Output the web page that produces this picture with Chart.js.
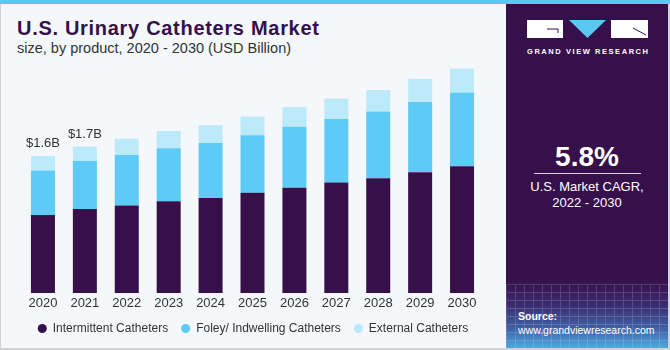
<!DOCTYPE html>
<html>
<head>
<meta charset="utf-8">
<script src="https://cdn.jsdelivr.net/npm/chart.js@4"></script>
<style>
  html, body { margin: 0; padding: 0; }
  body { width: 670px; height: 350px; position: relative; overflow: hidden; background: #f4f8fb; font-family: "Liberation Sans", Arial, sans-serif; }
  #frame { position: absolute; left: 0; top: 0; border-left: 1px solid #cfd3d6; border-right: 2px solid #cfd3d6; border-bottom: 2px solid #cfd3d6; box-sizing: border-box; width: 670px; height: 350px; }
  #topbar { position: absolute; left: 0; top: 0; width: 670px; height: 4px; background: #5bc8f2; }
  #title { position: absolute; left: 17px; top: 18px; font-size: 20px; line-height: 20px; font-weight: bold; color: #35104a; letter-spacing: 0.7px; white-space: nowrap; }
  #subtitle { position: absolute; left: 17px; top: 41px; font-size: 14.5px; line-height: 15px; color: #333; white-space: nowrap; }
  #chartbox { position: absolute; left: 0; top: 0; width: 506px; height: 350px; }
  #side { position: absolute; left: 506px; top: 4px; width: 162px; height: 344px; overflow: hidden;
          background: linear-gradient(to bottom, #36104a 0px, #36104a 275px, #3c2a6e 300px, #3f63a6 325px, #4fa8e0 344px); color: #fff; text-align: center; }
  #grid { position: absolute; left: 0; top: 280px; width: 162px; height: 64px; opacity: 0.15;
          background-image: repeating-linear-gradient(to right, #fff 0 1px, transparent 1px 9px), repeating-linear-gradient(to bottom, #fff 0 1px, transparent 1px 8px); }
  #cagr { position: absolute; left: 0; width: 162px; top: 139px; font-size: 28px; line-height: 28px; font-weight: bold; }
  #rule { position: absolute; left: 28px; width: 107px; top: 169px; height: 1px; background: #d8d0e0; }
  #cagrtxt { position: absolute; left: 0; width: 162px; top: 175px; font-size: 13px; line-height: 16px; }
  #source { position: absolute; left: 12px; top: 305px; font-size: 10.5px; line-height: 14px; text-align: left; }
</style>
</head>
<body>
<div id="frame"></div>
<div id="topbar"></div>
<div id="title">U.S. Urinary Catheters Market</div>
<div id="subtitle">size, by product, 2020 - 2030 (USD Billion)</div>
<div id="chartbox"><canvas id="chart" width="506" height="350"></canvas></div>
<div id="side">
  <svg width="162" height="60" style="position:absolute;left:0;top:0">
    <rect x="21" y="16" width="36" height="18" fill="#fff"/>
    <path d="M41 25 H52 V29" stroke="#36104a" stroke-width="1" fill="none"/>
    <polygon points="63,16 100,16 81.5,34" fill="#5bc8f2"/>
    <rect x="105" y="16" width="37" height="18" fill="#fff"/>
    <path d="M127 24 L140 31" stroke="#36104a" stroke-width="1" fill="none"/>
    <text x="21" y="50" font-size="7.5" font-weight="bold" fill="#fff" textLength="121" lengthAdjust="spacing" font-family="Liberation Sans, Arial, sans-serif">GRAND VIEW RESEARCH</text>
  </svg>
  <div id="cagr">5.8%</div>
  <div id="rule"></div>
  <div id="cagrtxt">U.S. Market CAGR,<br>2022 - 2030</div>
  <div id="grid"></div>
  <div id="source"><b>Source:</b><br>www.grandviewresearch.com</div>
</div>
<script>
const years = ['2020', '2021', '2022', '2023', '2024', '2025', '2026', '2027', '2028', '2029', '2030'];
const intermittent = [0.91, 0.98, 1.02, 1.07, 1.11, 1.17, 1.23, 1.29, 1.34, 1.41, 1.48];
const foley = [0.52, 0.56, 0.59, 0.62, 0.64, 0.67, 0.71, 0.74, 0.78, 0.82, 0.86];
const external = [0.17, 0.17, 0.19, 0.20, 0.21, 0.22, 0.23, 0.24, 0.25, 0.27, 0.28];
const totalLabels = ['$1.6B', '$1.7B'];

const FONT = '"Liberation Sans", Arial, sans-serif';

const totalsPlugin = {
    id: 'totals',
    afterDatasetsDraw(chart) {
        const ctx = chart.ctx;
        const meta = chart.getDatasetMeta(2);
        ctx.save();
        ctx.font = '13px ' + FONT;
        ctx.fillStyle = '#333';
        ctx.textAlign = 'center';
        ctx.textBaseline = 'alphabetic';
        totalLabels.forEach((txt, i) => {
            const bar = meta.data[i];
            ctx.fillText(txt, bar.x, bar.y - 9);
        });
        ctx.restore();
    }
};

// invisible side axes just reserve room left/right of the bars
const spacer = (pos, w) => ({
    position: pos,
    display: true,
    stacked: true,
    min: 0, max: 3,
    grid: { display: false, drawTicks: false },
    border: { display: false },
    ticks: { display: false },
    afterFit: s => { s.width = w; }
});

var ctx = document.getElementById('chart').getContext('2d');

var chart = new Chart(ctx, {
    type: 'bar',
    data: {
        labels: years,
        datasets: [
            { label: 'Intermittent Catheters', data: intermittent, backgroundColor: '#37104a' },
            { label: 'Foley/ Indwelling Catheters', data: foley, backgroundColor: '#5dcbf6' },
            { label: 'External Catheters', data: external, backgroundColor: '#bdeafb' }
        ]
    },
    options: {
        responsive: false,
        animation: false,
        layout: { padding: { top: 36, left: 0, right: 0, bottom: 5.5 } },
        datasets: { bar: { barPercentage: 0.573, categoryPercentage: 1 } },
        scales: {
            x: {
                stacked: true,
                grid: { display: false, drawTicks: false },
                border: { display: false },
                ticks: { color: '#333', padding: 3.5, font: { size: 13, family: FONT, lineHeight: 1 } },
                afterFit: s => { s.height = 16.5; }
            },
            y: spacer('left', 22),
            y2: spacer('right', 23)
        },
        plugins: {
            legend: {
                position: 'bottom',
                labels: {
                    usePointStyle: true,
                    pointStyle: 'circle',
                    boxWidth: 9,
                    boxHeight: 6.4,
                    padding: 13,
                    color: '#333',
                    font: { size: 12, family: FONT }
                }
            },
            tooltip: { enabled: false }
        }
    },
    plugins: [totalsPlugin]
});
</script>
</body>
</html>
